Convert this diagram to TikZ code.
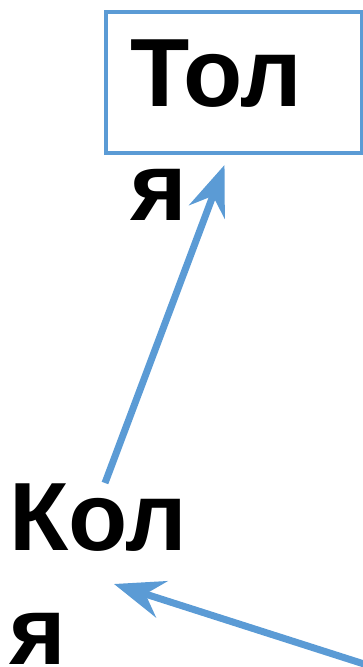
\documentclass[tikz,border=0pt]{standalone}
\usepackage{fontspec}
\setmainfont{Liberation Sans}
\usepackage{tikz}
\definecolor{officeblue}{RGB}{91,155,213}
\usetikzlibrary{arrows.meta, calc}

\begin{document}
\begin{tikzpicture}[x=1pt, y=1pt,
				kasten/.style={draw=officeblue, line width=4pt, inner sep=0pt, minimum width=256pt, minimum height=141pt},
				figur/.style={font=\fontsize{97}{114}\selectfont\bfseries, align=left, inner sep=0pt, anchor=base west},
				pfeil/.style={draw=officeblue, line width=7pt, -{Stealth[length=50pt, width=38pt, inset=17pt]}}]
				% Bildbereich
				\useasboundingbox (0,0) rectangle (362,-667);
				% Kasten und Namen
				\node[kasten] (tolya) at (233.5,-82.5) {};
				\node[figur] (tolyatext) at (130,-220) {Тол\\я};
				\node[figur] (kolya) at (9,-664) {Кол\\я};
				\coordinate (rand) at (375,-667.5);
				% Pfeile
				\draw[pfeil] ($(kolya.base west)+(96,181)$) -- ($(tolya.south)+(-9,-10)$);
				\draw[pfeil] (rand) -- ($(kolya.base west)+(105,80)$);
			\end{tikzpicture}
\end{document}
